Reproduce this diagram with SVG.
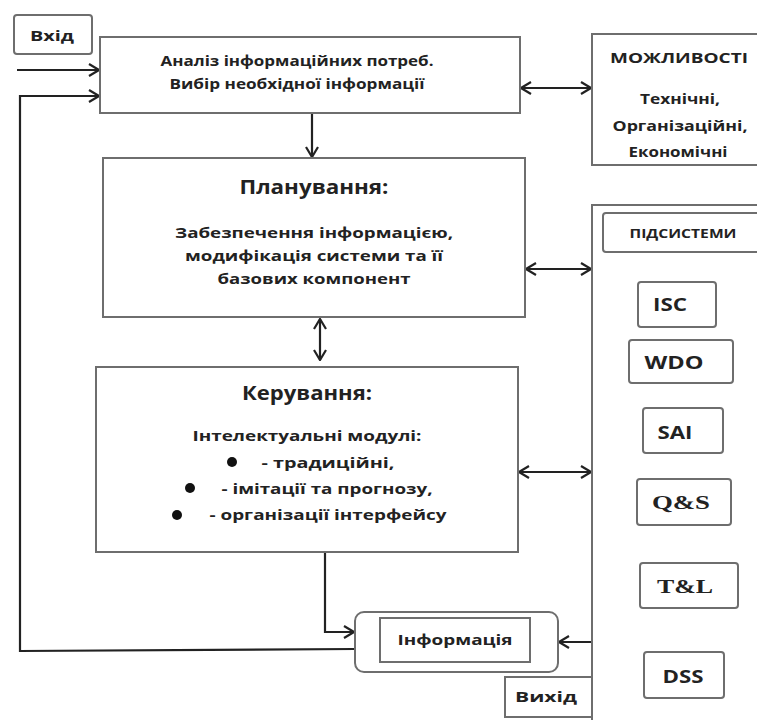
<svg xmlns="http://www.w3.org/2000/svg" width="757" height="720" viewBox="0 0 757 720">
<style>
.box{fill:#fff;stroke:#6e6e6e;stroke-width:2}
.con{fill:none;stroke:#222;stroke-width:2.2}
.t{font-family:"Open Sans","Noto Sans","DejaVu Sans",sans-serif;font-weight:bold;fill:#222;text-anchor:middle}
.s{font-family:"Liberation Serif","Times New Roman",serif;font-weight:bold;fill:#222;text-anchor:middle}
</style>
<defs>
<marker id="ah" viewBox="0 0 12 14" refX="11" refY="7" markerWidth="12" markerHeight="14" markerUnits="userSpaceOnUse" orient="auto-start-reverse">
<path d="M1,1 L11,7 L1,13" fill="none" stroke="#222" stroke-width="2.2"/>
</marker>
</defs>
<rect width="757" height="720" fill="#fff"/>

<g id="connectors">
<line class="con" x1="17" y1="70" x2="99" y2="70" marker-end="url(#ah)"/>
<polyline class="con" points="355,649 20,651 20,96 99,96" marker-end="url(#ah)"/>
<line class="con" x1="312" y1="114" x2="312" y2="157" marker-end="url(#ah)"/>
<line class="con" x1="521" y1="88" x2="591" y2="88" marker-start="url(#ah)" marker-end="url(#ah)"/>
<line class="con" x1="320" y1="319" x2="320" y2="360" marker-start="url(#ah)" marker-end="url(#ah)"/>
<line class="con" x1="526" y1="269" x2="591" y2="269" marker-start="url(#ah)" marker-end="url(#ah)"/>
<line class="con" x1="519" y1="472" x2="591" y2="472" marker-start="url(#ah)" marker-end="url(#ah)"/>
<polyline class="con" points="325,553 325,632 354,632" marker-end="url(#ah)"/>
<line class="con" x1="592" y1="642" x2="559" y2="642" marker-end="url(#ah)"/>
</g>

<g id="node-vhid">
<rect class="box" x="14" y="15" width="78" height="39" rx="3"/>
<text class="t" x="52" y="41" font-size="15" textLength="44" lengthAdjust="spacingAndGlyphs">Вхід</text>
</g>

<g id="node-analiz">
<rect class="box" x="100" y="37" width="420" height="76"/>
<text class="t" x="297" y="66" font-size="14.5" textLength="273" lengthAdjust="spacingAndGlyphs">Аналіз інформаційних потреб.</text>
<text class="t" x="297" y="89" font-size="14.5" textLength="255" lengthAdjust="spacingAndGlyphs">Вибір необхідної інформації</text>
</g>

<g id="node-mozhlyvosti">
<rect class="box" x="592" y="34" width="175" height="131"/>
<text class="t" x="679" y="63" font-size="14" textLength="138" lengthAdjust="spacingAndGlyphs">МОЖЛИВОСТІ</text>
<text class="t" x="680" y="104" font-size="14" textLength="80" lengthAdjust="spacingAndGlyphs">Технічні,</text>
<text class="t" x="680" y="131" font-size="14" textLength="135" lengthAdjust="spacingAndGlyphs">Організаційні,</text>
<text class="t" x="678" y="157" font-size="14" textLength="99" lengthAdjust="spacingAndGlyphs">Економічні</text>
</g>

<g id="node-planuvannya">
<rect class="box" x="103" y="158" width="422" height="159"/>
<text class="t" x="314" y="194" font-size="19" font-weight="600" fill="#3a3a3a" textLength="149" lengthAdjust="spacingAndGlyphs">Планування:</text>
<text class="t" x="314" y="238" font-size="14.5" textLength="278" lengthAdjust="spacingAndGlyphs">Забезпечення інформацією,</text>
<text class="t" x="314" y="261" font-size="14.5" textLength="258" lengthAdjust="spacingAndGlyphs">модифікація системи та її</text>
<text class="t" x="314" y="284" font-size="14.5" textLength="193" lengthAdjust="spacingAndGlyphs">базових компонент</text>
</g>

<g id="node-keruvannya">
<rect class="box" x="96" y="367" width="422" height="185"/>
<text class="t" x="307" y="400" font-size="19" font-weight="600" fill="#3a3a3a" textLength="130" lengthAdjust="spacingAndGlyphs">Керування:</text>
<text class="t" x="307" y="441" font-size="14.5" textLength="229" lengthAdjust="spacingAndGlyphs">Інтелектуальні модулі:</text>
<circle cx="232" cy="462" r="5" fill="#111"/>
<text class="t" x="328" y="468" font-size="14.5" textLength="133" lengthAdjust="spacingAndGlyphs">- традиційні,</text>
<circle cx="190" cy="488" r="5" fill="#111"/>
<text class="t" x="327" y="494" font-size="14.5" textLength="211" lengthAdjust="spacingAndGlyphs">- імітації та прогнозу,</text>
<circle cx="177" cy="515" r="5" fill="#111"/>
<text class="t" x="328" y="520" font-size="14.5" textLength="237" lengthAdjust="spacingAndGlyphs">- організації інтерфейсу</text>
</g>

<g id="node-pidsystemy">
<rect class="box" x="592" y="205" width="180" height="530"/>
<rect class="box" x="603" y="213" width="165" height="39" rx="3"/>
<text class="t" x="683" y="238" font-size="12" textLength="107" lengthAdjust="spacingAndGlyphs">ПІДСИСТЕМИ</text>
</g>

<g id="node-isc">
<rect class="box" x="638" y="282" width="78" height="45" rx="3"/>
<text class="t" x="670" y="311" font-size="17" textLength="34" lengthAdjust="spacingAndGlyphs">ISC</text>
</g>
<g id="node-wdo">
<rect class="box" x="629" y="340" width="104" height="43" rx="3"/>
<text class="t" x="674" y="369" font-size="17" textLength="59" lengthAdjust="spacingAndGlyphs">WDO</text>
</g>
<g id="node-sai">
<rect class="box" x="643" y="408" width="80" height="45" rx="3"/>
<text class="t" x="675" y="439" font-size="17" textLength="35" lengthAdjust="spacingAndGlyphs">SAI</text>
</g>
<g id="node-qs">
<rect class="box" x="637" y="479" width="94" height="46" rx="3"/>
<text class="s" x="681" y="509" font-size="18" textLength="58" lengthAdjust="spacingAndGlyphs">Q&amp;S</text>
</g>
<g id="node-tl">
<rect class="box" x="640" y="563" width="98" height="45" rx="3"/>
<text class="s" x="685" y="593" font-size="18" textLength="56" lengthAdjust="spacingAndGlyphs">T&amp;L</text>
</g>
<g id="node-dss">
<rect class="box" x="644" y="652" width="80" height="46" rx="3"/>
<text class="t" x="683" y="683" font-size="17" textLength="41" lengthAdjust="spacingAndGlyphs">DSS</text>
</g>

<g id="node-informatsiya">
<rect class="box" x="355" y="612" width="203" height="60" rx="9"/>
<rect class="box" x="380" y="618" width="150" height="44"/>
<text class="t" x="455" y="645" font-size="14" textLength="115" lengthAdjust="spacingAndGlyphs">Інформація</text>
</g>

<g id="node-vyhid">
<rect class="box" x="505" y="677" width="87" height="40"/>
<text class="t" x="546" y="702" font-size="14" textLength="62" lengthAdjust="spacingAndGlyphs">Вихід</text>
</g>
</svg>
